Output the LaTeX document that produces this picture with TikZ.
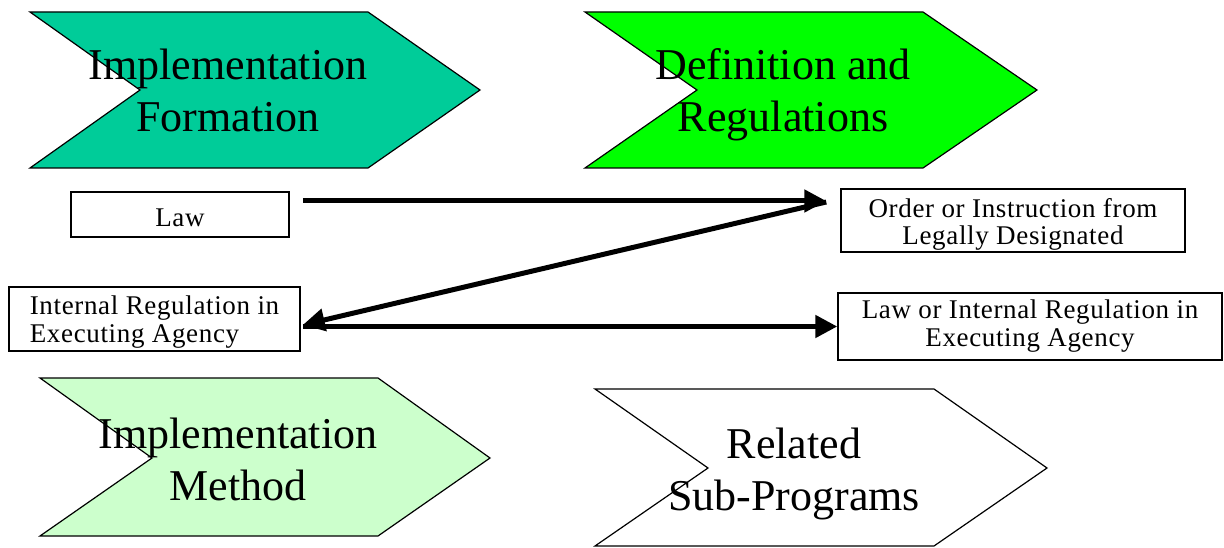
\documentclass[tikz,border=0pt]{standalone}
\usepackage{fontspec}
\setmainfont{Liberation Serif}
\newfontfamily\boxfont[LetterSpace=2.4]{Liberation Serif}
\usetikzlibrary{arrows.meta}
\definecolor{formteal}{RGB}{0,204,153}
\definecolor{defgreen}{RGB}{0,255,0}
\definecolor{methgreen}{RGB}{204,255,204}
\begin{document}
\begin{tikzpicture}[x=1pt,y=-1pt,
  chev/.style={draw=black, line width=1.2pt, line join=miter},
  chevtext/.style={font=\fontsize{44}{52}\selectfont, align=center, anchor=base, inner sep=0pt},
  infobox/.style={draw=black, line width=1.5pt, fill=white, inner sep=0pt,
    font=\boxfont\fontsize{27}{28}\selectfont, text depth=0pt},
  arr/.style={line width=5pt, -{Triangle[length=22pt,width=22pt]}}]
\useasboundingbox (0,0) rectangle (1224,548);

% stage chevrons
\draw[chev, fill=formteal] (30,12) -- (368,12) -- (480,90) -- (368,168) -- (30,168) -- (140,90) -- cycle;
\draw[chev, fill=defgreen] (585,12) -- (923,12) -- (1037,90) -- (923,168) -- (585,168) -- (697,90) -- cycle;
\draw[chev, fill=methgreen] (40,378) -- (378,378) -- (490,458) -- (378,536) -- (40,536) -- (152,458) -- cycle;
\draw[chev, fill=white] (595,389) -- (934,389) -- (1047,468) -- (934,546) -- (595,546) -- (708,468) -- cycle;

\node[chevtext] (formation) at (228,132) {Implementation\\Formation};
\node[chevtext] (definition) at (783,132) {Definition and\\Regulations};
\node[chevtext] (method) at (238,500) {Implementation\\Method};
\node[chevtext] (related) at (794,510) {Related\\Sub-Programs};

% legal instruments
\node[infobox, minimum width=218, minimum height=45, text height=25pt] (law) at (180,214.5) {Law};
\node[infobox, minimum width=291, minimum height=64, text height=46pt, align=left] (internal) at (154.5,319) {Internal Regulation in\\Executing Agency};
\node[infobox, minimum width=344, minimum height=63, text height=49pt, align=center] (order) at (1013,220.5) {Order or Instruction from\\Legally Designated};
\node[infobox, minimum width=384, minimum height=67, text height=39pt, align=center] (lawint) at (1030,326.5) {Law or Internal Regulation in\\Executing Agency};

% flows between instruments
\draw[arr] ([shift={(13pt,13.5pt)}]law.east) -- ([shift={(-14pt,19.5pt)}]order.west);
\draw[arr] ([shift={(-14pt,18.5pt)}]order.west) -- ([shift={(2pt,-6pt)}]internal.east);
\draw[arr] ([shift={(2pt,-7.5pt)}]internal.east) -- (lawint.west);
\end{tikzpicture}
\end{document}
